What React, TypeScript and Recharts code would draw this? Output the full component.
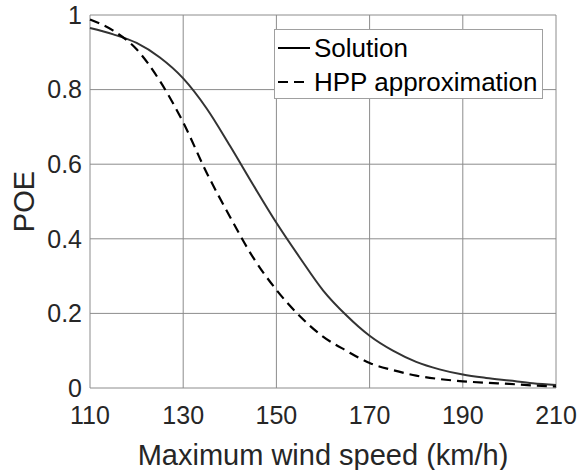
import {
  CartesianGrid,
  Label,
  Legend,
  Line,
  LineChart,
  XAxis,
  YAxis,
} from "recharts";

const windSpeeds = [
  110, 115, 120, 125, 130, 135, 140, 145, 150, 155, 160, 165, 170, 175, 180,
  185, 190, 195, 200, 205, 210,
];

const solutionPoe = [
  0.965, 0.948, 0.925, 0.886, 0.83, 0.75, 0.65, 0.545, 0.443, 0.35, 0.262,
  0.195, 0.14, 0.1, 0.07, 0.05, 0.036, 0.027, 0.02, 0.013, 0.008,
];

const hppPoe = [
  0.988, 0.958, 0.908, 0.823, 0.712, 0.578, 0.46, 0.35, 0.263, 0.193, 0.138,
  0.1, 0.067, 0.048, 0.033, 0.024, 0.018, 0.014, 0.011, 0.007, 0.004,
];

const xTicks = [110, 130, 150, 170, 190, 210];
const yTicks = [0, 0.2, 0.4, 0.6, 0.8, 1];

const chartData = windSpeeds.map((speed, i) => ({
  speed,
  solution: solutionPoe[i],
  hpp: hppPoe[i],
}));

const colors = {
  grid: "#8c8c8c",
  text: "#262626",
  solid: "#333333",
  dashed: "#000000",
};

const font = "'Liberation Sans', Arial, sans-serif";

const legendItems = [
  { label: "Solution", dash: undefined },
  { label: "HPP approximation", dash: "10 6" },
];

const renderLegend = () => (
  <div
    style={{
      boxSizing: "border-box",
      width: 269,
      height: 70,
      border: "1px solid #a0a0a0",
      background: "#ffffff",
      fontFamily: font,
      fontSize: 26,
      color: "#000",
      paddingTop: 1,
    }}
  >
    {legendItems.map((item) => (
      <div
        key={item.label}
        style={{ display: "flex", alignItems: "center", height: 34 }}
      >
        <svg width={34} height={10} style={{ marginLeft: 2 }}>
          <line
            x1={1}
            y1={5}
            x2={33}
            y2={5}
            stroke="#000"
            strokeWidth={2}
            strokeDasharray={item.dash}
          />
        </svg>
        <span style={{ marginLeft: 3, lineHeight: "34px" }}>{item.label}</span>
      </div>
    ))}
  </div>
);

const renderYLabel = (props: any) => {
  const vb = props.viewBox || { x: 0, y: 15, width: 90, height: 373 };
  const cx = vb.x + 24;
  const cy = vb.y + vb.height / 2;
  return (
    <text
      x={cx}
      y={cy}
      transform={`rotate(-90, ${cx}, ${cy})`}
      textAnchor="middle"
      dominantBaseline="central"
      fill={colors.text}
      fontSize={29}
      fontFamily={font}
    >
      POE
    </text>
  );
};

export default function App() {
  return (
    <div
      style={{
        position: "absolute",
        left: 0,
        top: 0,
        width: 581,
        height: 470,
        background: "#ffffff",
      }}
    >
      <LineChart
        width={581}
        height={470}
        data={chartData}
        margin={{ top: 15, right: 25, left: 0, bottom: 0 }}
      >
        <CartesianGrid stroke={colors.grid} strokeWidth={1} />
        <XAxis
          dataKey="speed"
          type="number"
          domain={[110, 210]}
          ticks={xTicks}
          axisLine={false}
          tickLine={false}
          tickSize={0}
          tickMargin={18}
          height={82}
          tick={{ fill: colors.text, fontSize: 25, fontFamily: font }}
        >
          <Label
            value="Maximum wind speed (km/h)"
            position="insideBottom"
            offset={5}
            fill={colors.text}
            fontSize={29}
            fontFamily={font}
          />
        </XAxis>
        <YAxis
          type="number"
          domain={[0, 1]}
          ticks={yTicks}
          axisLine={false}
          tickLine={false}
          tickSize={0}
          tickMargin={8}
          width={90}
          tick={{ fill: colors.text, fontSize: 25, fontFamily: font }}
        >
          <Label content={renderYLabel} />
        </YAxis>
        <Legend
          content={renderLegend}
          layout="horizontal"
          verticalAlign="middle"
          align="center"
          wrapperStyle={{ left: 274, top: 29, width: 269, height: 70 }}
        />
        <Line
          type="monotone"
          dataKey="solution"
          name="Solution"
          stroke={colors.solid}
          strokeWidth={2}
          dot={false}
          activeDot={false}
          isAnimationActive={false}
        />
        <Line
          type="monotone"
          dataKey="hpp"
          name="HPP approximation"
          stroke={colors.dashed}
          strokeWidth={2.2}
          strokeDasharray="10 6"
          dot={false}
          activeDot={false}
          isAnimationActive={false}
        />
      </LineChart>
    </div>
  );
}
